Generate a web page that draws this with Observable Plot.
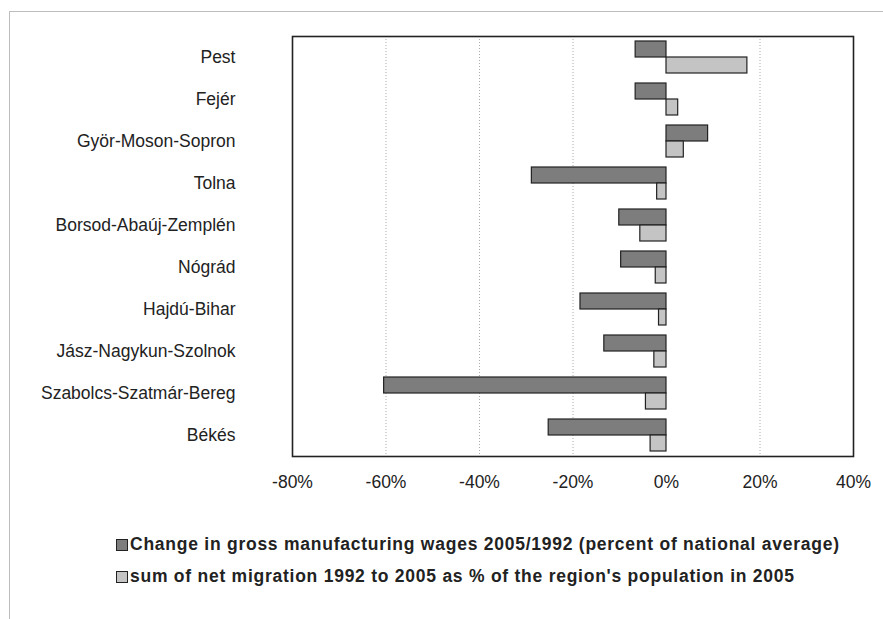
<!DOCTYPE html>
<html><head><meta charset="utf-8">
<script src="https://cdn.jsdelivr.net/npm/d3@7"></script>
<script src="https://cdn.jsdelivr.net/npm/@observablehq/plot@0.6"></script>
<style>
body{margin:0;background:#fff;font-family:"Liberation Sans",Arial,sans-serif;}
#wrap{position:relative;width:883px;height:619px;overflow:hidden;background:#fff}
#border{position:absolute;left:9px;top:11px;width:873px;height:640px;border-top:1.5px solid #bdbdbd;border-left:1.5px solid #bdbdbd}
#chart{position:absolute;left:0;top:0}
#legend{position:absolute;left:116px;top:528px;font-weight:bold;font-size:17.5px;letter-spacing:0.75px;color:#222;line-height:32px;white-space:nowrap}
#legend .sw{display:inline-block;width:10px;height:10px;border:1px solid #222;margin-right:2px;vertical-align:-1px}
</style></head>
<body><div id="wrap"><div id="border"></div><div id="chart"></div><div id="legend"></div></div>
<script>
const regions = ["Pest","Fejér","Györ-Moson-Sopron","Tolna","Borsod-Abaúj-Zemplén","Nógrád","Hajdú-Bihar","Jász-Nagykun-Szolnok","Szabolcs-Szatmár-Bereg","Békés"];
const wageChange = [-6.6,-6.6,8.9,-28.8,-10.1,-9.7,-18.4,-13.3,-60.4,-25.2];
const netMigration = [17.3,2.5,3.7,-2.0,-5.6,-2.3,-1.6,-2.6,-4.4,-3.4];
const seriesNames = ["Change in gross manufacturing wages 2005/1992 (percent of national average)","sum of net migration 1992 to 2005 as % of the region's population in 2005"];
const seriesColors = ["#7d7d7d","#c4c4c4"];
const xTicks = [-80,-60,-40,-20,0,20,40];
const gridTicks = [-60,-40,-20,20];

const data = [];
regions.forEach((r,i)=>{
  data.push({region:r, series:seriesNames[0], value:wageChange[i]});
  data.push({region:r, series:seriesNames[1], value:netMigration[i]});
});

const chart = Plot.plot({
  width: 883, height: 500,
  marginLeft: 292, marginRight: 30, marginTop: 35, marginBottom: 44,
  style: {fontFamily:"Liberation Sans, Arial, sans-serif", fontSize:"17.5px", color:"#222", background:"transparent"},
  x: {domain:[-80,40], axis:null},
  fy: {domain: regions, padding: 0, axis: null},
  y: {domain: seriesNames, paddingInner: 0, paddingOuter: 0.25, axis: null},
  color: {domain: seriesNames, range: seriesColors},
  marks: [
    Plot.gridX(gridTicks, {stroke:"#aaa", strokeOpacity:1, strokeDasharray:"1,2"}),
    Plot.barX(data, {fy:"region", y:"series", x:"value", fill:"series", stroke:"#222", strokeWidth:1.2}),
    Plot.frame({facet:"super", stroke:"#222", strokeWidth:1.6}),
    Plot.axisX(xTicks, {tickFormat: d => d + "%", tickSize:0, tickPadding:19, label:null, fontSize:17.5}),
    Plot.axisFy({anchor:"left", tickSize:0, tickPadding:57, label:null, fontSize:17.5})
  ]
});
document.getElementById("chart").appendChild(chart);

const legend = document.getElementById("legend");
seriesNames.forEach((s,i)=>{
  const row = document.createElement("div");
  const sw = document.createElement("span");
  sw.className = "sw"; sw.style.background = seriesColors[i];
  row.appendChild(sw);
  row.appendChild(document.createTextNode(s));
  legend.appendChild(row);
});
</script></body></html>
